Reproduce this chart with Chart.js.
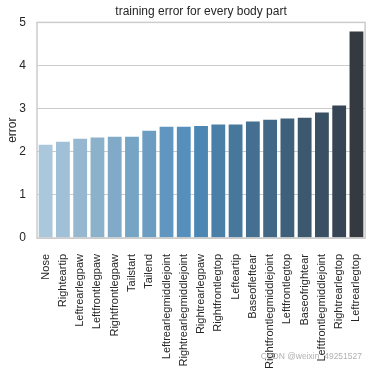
<!DOCTYPE html>
<html>
<head>
<meta charset="utf-8">
<script src="https://cdn.jsdelivr.net/npm/chart.js@4"></script>
<style>
  html, body { margin: 0; padding: 0; background: #fff; }
  #wrap { width: 378px; height: 371px; }
</style>
</head>
<body>
<div id="wrap"><canvas id="error_chart" width="378" height="371"></canvas></div>
<script>
// body parts, sorted by error
const bodyParts = [
    'Nose', 'Righteartip', 'Leftrearlegpaw', 'Leftfrontlegpaw', 'Rightfrontlegpaw',
    'Tailstart', 'Tailend', 'Leftrearlegmiddlejoint', 'Rightrearlegmiddlejoint',
    'Rightrearlegpaw', 'Rightfrontlegtop', 'Lefteartip', 'Baseofleftear',
    'Rightfrontlegmiddlejoint', 'Leftfrontlegtop', 'Baseofrightear',
    'Leftfrontlegmiddlejoint', 'Rightrearlegtop', 'Leftrearlegtop'
];
const trainError = [
    2.16, 2.23, 2.30, 2.33, 2.35, 2.35, 2.49, 2.58, 2.58, 2.60,
    2.63, 2.63, 2.70, 2.74, 2.77, 2.79, 2.91, 3.07, 4.79
];
const yTicks = [0, 1, 2, 3, 4, 5];

// Blues_d style palette
const barColors = [
    '#aac7dc', '#a0c0d7', '#95b8d0', '#8bb1cb', '#80aac8', '#76a4c5', '#6b9dc2',
    '#6096bf', '#568fbb', '#4c87b3', '#4a7fa8', '#47789c', '#446f90', '#416886',
    '#3e607b', '#3c586f', '#394f63', '#364555', '#343a3f'
];

const frame = {
    id: 'frame',
    afterDraw(chart) {
        const a = chart.chartArea;
        const c = chart.ctx;
        c.save();
        c.strokeStyle = '#cccccc';
        c.lineWidth = 1.5;
        c.strokeRect(a.left, a.top, a.right - a.left, a.bottom - a.top);
        c.fillStyle = 'rgba(150,150,150,0.75)';
        c.font = '8.5px "Liberation Sans", Arial, sans-serif';
        c.textAlign = 'right';
        c.textBaseline = 'middle';
        c.fillText('CSDN @weixin_49251527', 362, 357);
        c.restore();
    }
};

document.addEventListener('DOMContentLoaded', function () {
    const ctx = document.getElementById('error_chart').getContext('2d');
    Chart.defaults.font.family = '"Liberation Sans", Arial, sans-serif';
    Chart.defaults.color = '#262626';

    new Chart(ctx, {
        type: 'bar',
        data: {
            labels: bodyParts,
            datasets: [{
                label: 'error',
                data: trainError,
                backgroundColor: barColors,
                barPercentage: 0.8,
                categoryPercentage: 1.0
            }]
        },
        options: {
            responsive: false,
            animation: false,
            layout: { padding: { left: 0, right: 5, top: 0, bottom: 0 } },
            plugins: {
                legend: { display: false },
                tooltip: { enabled: false },
                title: {
                    display: true,
                    text: 'training error for every body part',
                    fullSize: false,
                    font: { size: 12, weight: 'normal' },
                    padding: { top: 4, bottom: 4 }
                }
            },
            scales: {
                x: {
                    grid: { display: false },
                    border: { display: false },
                    ticks: {
                        minRotation: 90,
                        maxRotation: 90,
                        autoSkip: false,
                        padding: 8,
                        font: { size: 11 }
                    },
                    afterFit(s) { s.height = 133; }
                },
                y: {
                    min: 0,
                    max: 5,
                    afterBuildTicks(s) { s.ticks = yTicks.map(v => ({ value: v })); },
                    grid: { color: '#cccccc', lineWidth: 1, drawTicks: false },
                    border: { display: false },
                    ticks: { padding: 11, font: { size: 12 } },
                    title: {
                        display: true,
                        text: 'error',
                        font: { size: 12 },
                        padding: { top: 5, bottom: 0 }
                    },
                    afterFit(s) { s.width = 37; }
                }
            }
        },
        plugins: [frame]
    });
});
</script>
</body>
</html>
